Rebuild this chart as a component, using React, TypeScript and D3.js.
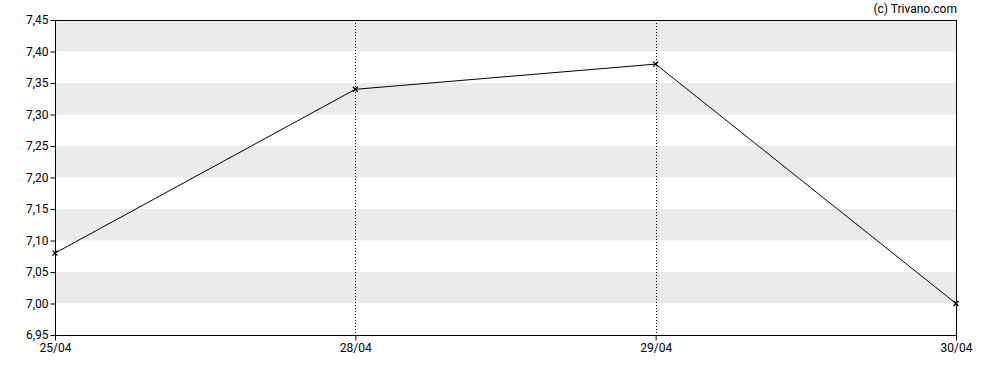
import React, { useEffect, useRef } from "react";
import * as d3 from "d3";

const dates = ["25/04", "28/04", "29/04", "30/04"];
const prices = [7.08, 7.34, 7.38, 7.0];
const yTicks = [6.95, 7.0, 7.05, 7.1, 7.15, 7.2, 7.25, 7.3, 7.35, 7.4, 7.45];

const W = 988;
const H = 370;
const m = { top: 20, right: 32, bottom: 35, left: 55 };

const App = () => {
  const svgRef = useRef<SVGSVGElement>(null);

  useEffect(() => {
    const svg = d3.select(svgRef.current);
    svg.selectAll("*").remove();
    const iw = W - m.left - m.right;
    const ih = H - m.top - m.bottom;

    const x = d3.scalePoint().domain(dates).range([0, iw]);
    const y = d3.scaleLinear().domain([6.95, 7.45]).range([ih, 0]);
    const fmt = (v: number) => v.toFixed(2).replace(".", ",");

    const g = svg.append("g").attr("transform", `translate(${m.left},${m.top})`);

    // alternating bands
    for (let i = 0; i < yTicks.length - 1; i++) {
      const lo = yTicks[i];
      const hi = yTicks[i + 1];
      if (i % 2 === 1) {
        g.append("rect")
          .attr("x", 0)
          .attr("y", y(hi))
          .attr("width", iw)
          .attr("height", y(lo) - y(hi))
          .attr("fill", "#ebebeb");
      }
    }

    // dotted vertical lines
    g.selectAll(".vline")
      .data(dates.slice(1, -1))
      .enter()
      .append("line")
      .attr("x1", (d) => Math.round(x(d)!) + 0.5)
      .attr("x2", (d) => Math.round(x(d)!) + 0.5)
      .attr("y1", 0)
      .attr("y2", ih)
      .attr("stroke", "#000")
      .attr("stroke-dasharray", "1,2");

    // frame
    g.append("rect")
      .attr("x", 0.5)
      .attr("y", 0.5)
      .attr("width", iw)
      .attr("height", ih)
      .attr("fill", "none")
      .attr("stroke", "#000");

    // y axis
    const yAxis = g.append("g").attr("transform", "translate(0.5,0)")
      .call(d3.axisLeft(y).tickValues(yTicks).tickFormat((d) => fmt(d as number)).tickSize(5).tickPadding(2));
    yAxis.select(".domain").remove();

    // x axis
    const xAxis = g.append("g").attr("transform", `translate(0,${ih + 0.5})`)
      .call(d3.axisBottom(x).tickSize(5).tickPadding(3));
    xAxis.select(".domain").remove();

    svg.selectAll(".tick text")
      .attr("font-family", "Roboto, sans-serif")
      .attr("font-size", 12)
      .attr("fill", "#000");
    svg.selectAll(".tick line").attr("stroke", "#000");

    // price line
    const line = d3.line<number>()
      .x((d, i) => x(dates[i])!)
      .y((d) => y(d));
    g.append("path")
      .datum(prices)
      .attr("d", line)
      .attr("fill", "none")
      .attr("stroke", "#000")
      .attr("stroke-width", 1);

    // x markers
    g.selectAll(".mark")
      .data(prices)
      .enter()
      .append("path")
      .attr("transform", (d, i) => `translate(${x(dates[i])},${y(d)})`)
      .attr("d", "M-2.5,-2.5L2.5,2.5M-2.5,2.5L2.5,-2.5")
      .attr("stroke", "#000")
      .attr("stroke-width", 1.3);

    svg.append("text")
      .attr("x", 957)
      .attr("y", 13)
      .attr("text-anchor", "end")
      .attr("font-family", "Roboto, sans-serif")
      .attr("font-size", 12)
      .attr("fill", "#000")
      .text("(c) Trivano.com");
  }, []);

  return (
    <svg ref={svgRef} width={W} height={H} style={{ position: "absolute", left: 0, top: 0 }} />
  );
};

export default App;
